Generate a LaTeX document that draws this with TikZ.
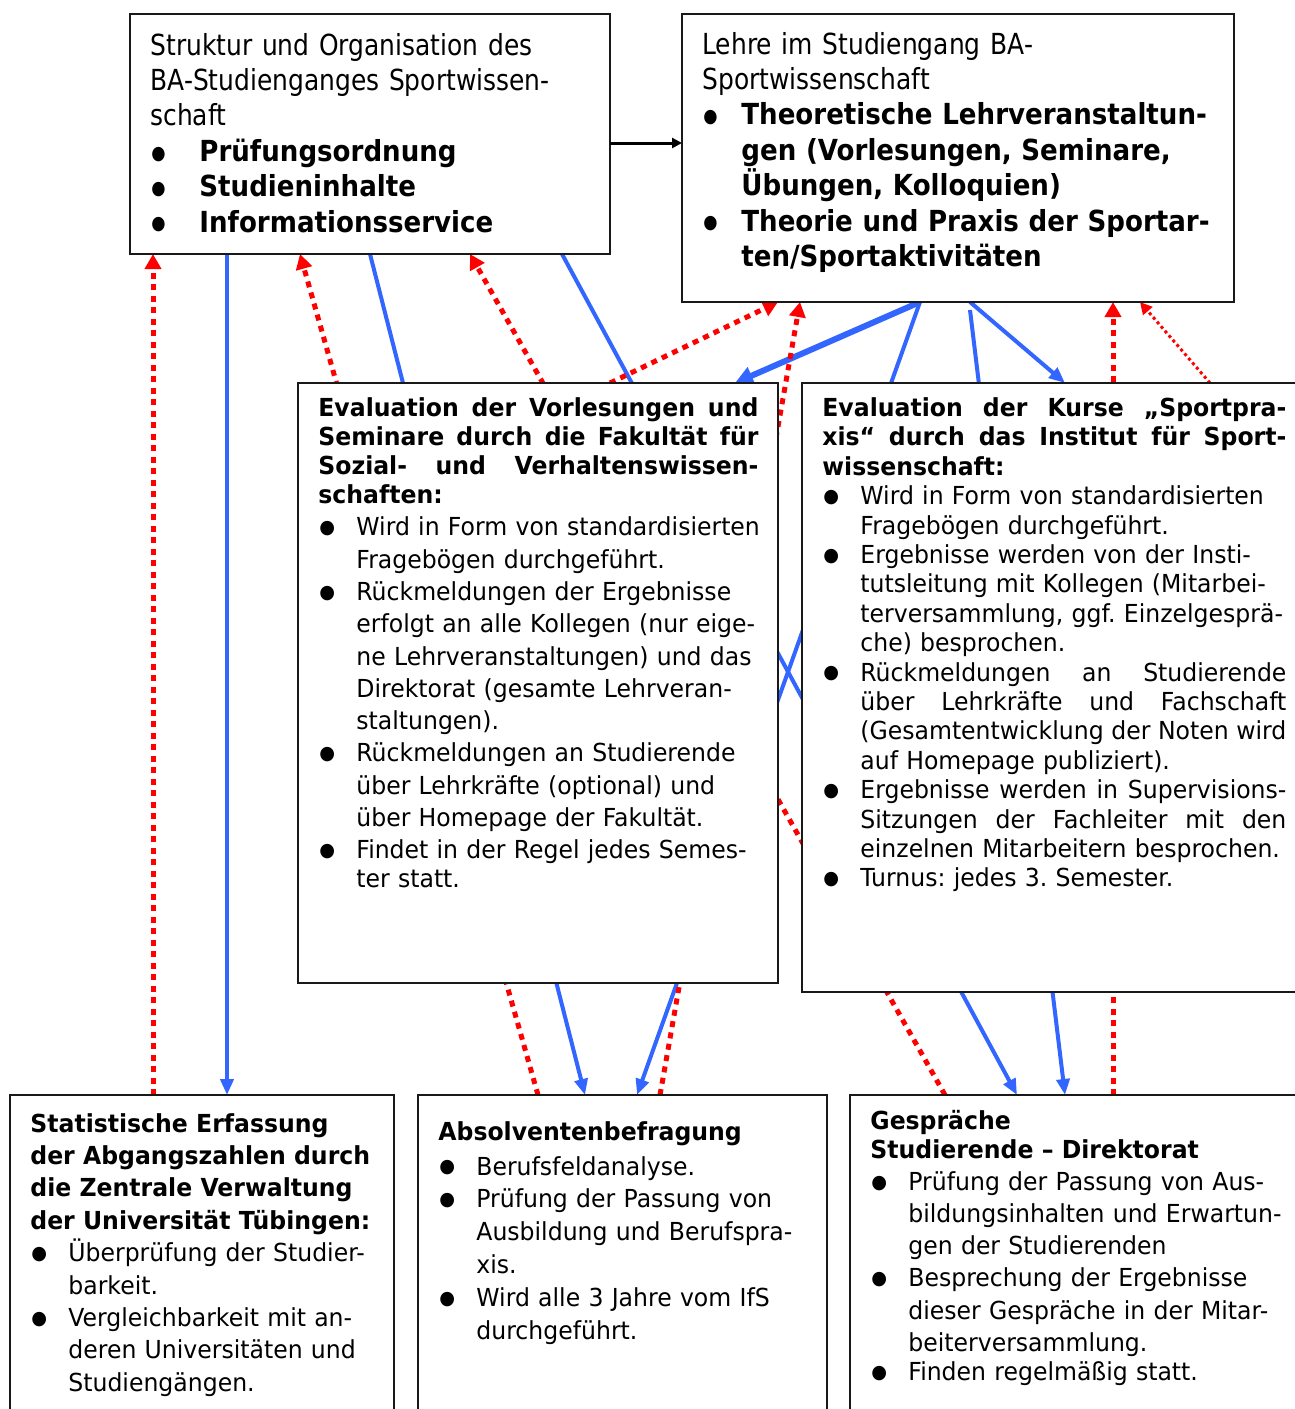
\documentclass[tikz,border=0pt]{standalone}
\usepackage{fontspec}
\setmainfont{DejaVu Sans}[FakeStretch=0.95]
\newfontfamily\bigfont{DejaVu Sans}[FakeStretch=0.86, BoldFeatures={FakeStretch=0.9}]
\usetikzlibrary{arrows.meta, positioning, calc, fit, backgrounds}
\definecolor{qmblue}{HTML}{3366FF}
\definecolor{qmred}{HTML}{FF0000}
\frenchspacing

\newlength{\bulind}
\newcommand{\bul}{\par\noindent\makebox[\bulind][l]{\hspace{0.5pt}\raisebox{1.1pt}{\fontsize{9.5pt}{9.5pt}\selectfont ●}}\ignorespaces}
\newcommand{\nl}{\\\hspace*{\bulind}}
\newcommand{\jl}[2]{\makebox[#1][s]{\spaceskip=0pt\xspaceskip=0pt #2}}
\newcommand{\lead}[1]{\par\fontsize{12.4pt}{#1}\selectfont}

\begin{document}
\begin{tikzpicture}[x=0.5pt, y=-0.5pt,
  box/.style={draw=black!90, line width=1pt, fill=white, inner sep=0pt, outer sep=0pt},
  txt/.style={anchor=base west, inner sep=0pt, align=left, text width=#1},
  bluearr/.style={qmblue, line width=2pt, -{Triangle[length=8pt,width=6.5pt]}},
  redarr/.style={qmred, line width=2.5pt, dash pattern=on 3pt off 2.75pt, -{Triangle[length=7.5pt,width=8pt]}},
  redthin/.style={qmred, line width=1.5pt, dash pattern=on 1.5pt off 1.5pt, -{Triangle[length=6pt,width=6pt]}},
  arr/.style={-{Triangle[length=5pt,width=5pt]}, line width=1.5pt},
]
\useasboundingbox (0,0) rectangle (1295,1409);
\clip (0,0) rectangle (1295,1409);

% Boxes
\node[box, fit={(130,14) (610,254)}] (struktur) {};
\node[box, fit={(682,14) (1234,302)}] (lehre) {};
\node[box, fit={(298,383) (778,983)}] (evl) {};
\node[box, fit={(802,383) (1310,992)}] (evr) {};
\node[box, fit={(10,1095) (394,1420)}] (stat) {};
\node[box, fit={(418,1095) (827,1420)}] (absol) {};
\node[box, fit={(850,1095) (1310,1420)}] (gespr) {};

% Top row
\node[txt=230pt, font=\bigfont\fontsize{14.5pt}{17.7pt}\selectfont] (strukturtxt) at ($(struktur.north west)+(20,41)$) {\setlength{\bulind}{24.5pt}%
Struktur und Organisation des\\
BA-Studienganges Sportwissen-\\
schaft
\bul\textbf{Prüfungsordnung}
\bul\textbf{Studieninhalte}
\bul\textbf{Informationsservice}};

\node[txt=270pt, font=\bigfont\fontsize{14.5pt}{17.7pt}\selectfont] (lehretxt) at ($(lehre.north west)+(20,40)$) {\setlength{\bulind}{19.5pt}%
Lehre im Studiengang BA-\\
Sportwissenschaft
\bul\textbf{Theoretische Lehrveranstaltun-}\nl\textbf{gen (Vorlesungen, Seminare,}\nl\textbf{Übungen, Kolloquien)}
\bul\textbf{Theorie und Praxis der Sportar-}\nl\textbf{ten/Sportaktivitäten}};

% Evaluation
\node[txt=250pt, font=\fontsize{12.4pt}{14.5pt}\selectfont] (evltxt) at ($(evl.north west)+(20,33.5)$) {\setlength{\bulind}{19pt}%
\textbf{\jl{220pt}{Evaluation der Vorlesungen und}\\
\jl{220pt}{Seminare durch die Fakultät für}\\
\jl{220pt}{Sozial- und Verhaltenswissen-}\\
schaften:}
\lead{16.15pt}
\bul Wird in Form von standardisierten\nl Fragebögen durchgeführt.
\bul Rückmeldungen der Ergebnisse\nl erfolgt an alle Kollegen (nur eige-\nl ne Lehrveranstaltungen) und das\nl Direktorat (gesamte Lehrveran-\nl staltungen).
\bul Rückmeldungen an Studierende\nl über Lehrkräfte (optional) und\nl über Homepage der Fakultät.
\bul Findet in der Regel jedes Semes-\nl ter statt.};

\node[txt=260pt, font=\fontsize{12.4pt}{14.7pt}\selectfont] (evrtxt) at ($(evr.north west)+(20,33.5)$) {\setlength{\bulind}{19pt}%
\textbf{\jl{232pt}{Evaluation der Kurse „Sportpra-}\\
\jl{232pt}{xis“ durch das Institut für Sport-}\\
wissenschaft:}
\bul Wird in Form von standardisierten\nl Fragebögen durchgeführt.
\bul Ergebnisse werden von der Insti-\nl tutsleitung mit Kollegen (Mitarbei-\nl terversammlung, ggf. Einzelgesprä-\nl che) besprochen.
\bul \jl{213pt}{Rückmeldungen an Studierende}\nl\jl{213pt}{über Lehrkräfte und Fachschaft}\nl\jl{213pt}{(Gesamtentwicklung der Noten wird}\nl auf Homepage publiziert).
\bul \jl{213pt}{Ergebnisse werden in Supervisions-}\nl\jl{213pt}{Sitzungen der Fachleiter mit den}\nl einzelnen Mitarbeitern besprochen.
\bul Turnus: jedes 3. Semester.};

% Bottom row
\node[txt=190pt, font=\fontsize{12.4pt}{16.2pt}\selectfont] (stattxt) at ($(stat.north west)+(20,37)$) {\setlength{\bulind}{19pt}%
\textbf{Statistische Erfassung\\ der Abgangszahlen durch\\ die Zentrale Verwaltung\\ der Universität Tübingen:}
\bul Überprüfung der Studier-\nl barkeit.
\bul Vergleichbarkeit mit an-\nl deren Universitäten und\nl Studiengängen.};

\node[txt=200pt, font=\fontsize{12.4pt}{16.4pt}\selectfont] (absoltxt) at ($(absol.north west)+(20,45)$) {\setlength{\bulind}{19pt}%
\textbf{Absolventenbefragung}
\lead{17.5pt}
\bul Berufsfeldanalyse.
\lead{16.4pt}
\bul Prüfung der Passung von\nl Ausbildung und Berufspra-\nl xis.
\bul Wird alle 3 Jahre vom IfS\nl durchgeführt.};

\node[txt=225pt, font=\fontsize{12.4pt}{14.5pt}\selectfont] (gesprtxt) at ($(gespr.north west)+(20,34)$) {\setlength{\bulind}{19pt}%
\textbf{Gespräche\\ Studierende – Direktorat}
\lead{16.1pt}
\bul Prüfung der Passung von Aus-\nl bildungsinhalten und Erwartun-\nl gen der Studierenden
\bul Besprechung der Ergebnisse\nl dieser Gespräche in der Mitar-\nl beiterversammlung.
\bul Finden regelmäßig statt.};

% Struktur -> Lehre
\draw[arr] ($(struktur.south east)+(0,-111)$) -- ($(lehre.north west)+(0,129)$);

\begin{scope}[on background layer]
% Blue connectors
\draw[bluearr] ($(struktur.south west)+(97,0)$) -- ($(stat.north west)+(217,0)$);
\draw[bluearr] ($(struktur.south west)+(240,0)$) -- ($(absol.north west)+(167,0)$);
\draw[bluearr] ($(struktur.south west)+(432,0)$) -- ($(gespr.north west)+(167,0)$);
\draw[bluearr, line width=3pt, -{Triangle[length=9pt,width=9pt]}] ($(lehre.south west)+(238,0)$) -- ($(evl.north west)+(437,0)$);
\draw[bluearr] ($(lehre.south west)+(238,0)$) -- ($(absol.north west)+(219,0)$);
\draw[bluearr] ($(lehre.south west)+(288,8)$) -- ($(gespr.north west)+(215,0)$);
\draw[bluearr] ($(lehre.south west)+(288,0)$) -- ($(evr.north west)+(263,0)$);
% Red connectors
\draw[redarr] ($(stat.north west)+(143,0)$) -- ($(struktur.south west)+(23,0)$);
\draw[redarr] ($(absol.north west)+(120,0)$) -- ($(struktur.south west)+(170,0)$);
\draw[redarr] ($(gespr.north west)+(95,0)$) -- ($(struktur.south west)+(340,0)$);
\draw[redarr] ($(evl.north west)+(312,0)$) -- ($(lehre.south west)+(96,0)$);
\draw[redarr] ($(absol.north west)+(242,0)$) -- ($(lehre.south west)+(118,0)$);
\draw[redarr] ($(gespr.north west)+(263,0)$) -- ($(lehre.south west)+(431,0)$);
\draw[redthin] ($(evr.north west)+(408,0)$) -- ($(lehre.south west)+(458,0)$);
\end{scope}

\end{tikzpicture}
\end{document}
